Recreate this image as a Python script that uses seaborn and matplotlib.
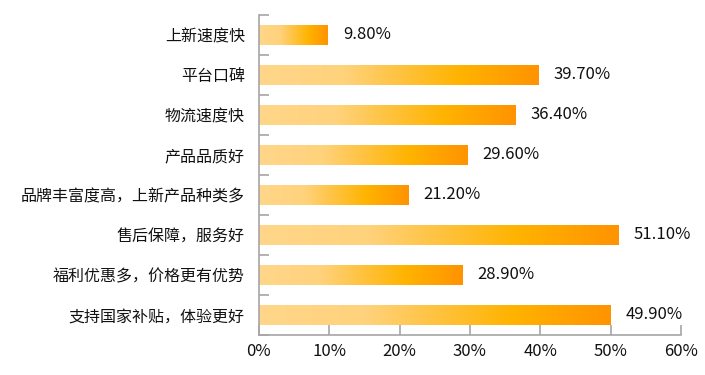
import matplotlib
matplotlib.use("Agg")
import matplotlib.pyplot as plt
import seaborn as sns
import numpy as np
import pandas as pd
from matplotlib.colors import LinearSegmentedColormap

# data (top to bottom)
categories = [
    "上新速度快",
    "平台口碑",
    "物流速度快",
    "产品品质好",
    "品牌丰富度高，上新产品种类多",
    "售后保障，服务好",
    "福利优惠多，价格更有优势",
    "支持国家补贴，体验更好",
]
values = [9.8, 39.7, 36.4, 29.6, 21.2, 51.1, 28.9, 49.9]
x_ticks = [0, 10, 20, 30, 40, 50, 60]

df = pd.DataFrame({"category": categories, "value": values})

sns.set_style("white")
plt.rcParams["font.family"] = ["Noto Sans CJK SC", "DejaVu Sans"]

fig = plt.figure(figsize=(7.05, 3.75), dpi=100)
ax = fig.add_axes([0.367, 0.107, 0.599, 0.853])

sns.barplot(data=df, x="value", y="category", orient="h", width=0.5,
            color="#FFB300", ax=ax)

# gradient fill for every bar
cmap = LinearSegmentedColormap.from_list(
    "grad", [(0, "#FFD68A"), (0.3, "#FFD27C"), (0.72, "#FFB300"), (1, "#FF9300")])
grad = np.linspace(0, 1, 256).reshape(1, -1)
for bar in ax.patches:
    x0, y0 = bar.get_x(), bar.get_y()
    w, h = bar.get_width(), bar.get_height()
    bar.set_facecolor("none")
    bar.set_edgecolor("none")
    ax.imshow(grad, cmap=cmap, aspect="auto", extent=[x0, x0 + w, y0 + h, y0],
              interpolation="bicubic", zorder=2)

for i, v in enumerate(values):
    ax.text(v + 2.2, i, f"{v:.2f}%", va="center", ha="left", fontsize=12,
            color="#111111")

ax.set_xlim(0, 60)
ax.set_ylim(len(categories) - 0.5, -0.5)
ax.set_xticks(x_ticks)
ax.set_xticklabels([f"{t}%" for t in x_ticks], fontsize=12, color="#111111")
ax.set_yticks(np.arange(len(categories)))
ax.set_yticklabels(categories, fontsize=11.5, color="#111111")
ax.set_xlabel("")
ax.set_ylabel("")

# category boundary ticks on the y axis
ax.set_yticks(np.arange(len(categories) + 1) - 0.5, minor=True)
ax.tick_params(axis="y", which="major", left=False, length=0, pad=10)
ax.tick_params(axis="y", which="minor", left=True, length=7, width=1.2,
               direction="in", color="#A6A6A6")
ax.tick_params(axis="x", which="major", bottom=True, length=7, width=1.2,
               direction="in", color="#A6A6A6", pad=6)

for s in ["top", "right"]:
    ax.spines[s].set_visible(False)
for s in ["left", "bottom"]:
    ax.spines[s].set_color("#A6A6A6")
    ax.spines[s].set_linewidth(1.2)

fig.savefig("out.png", dpi=100)
